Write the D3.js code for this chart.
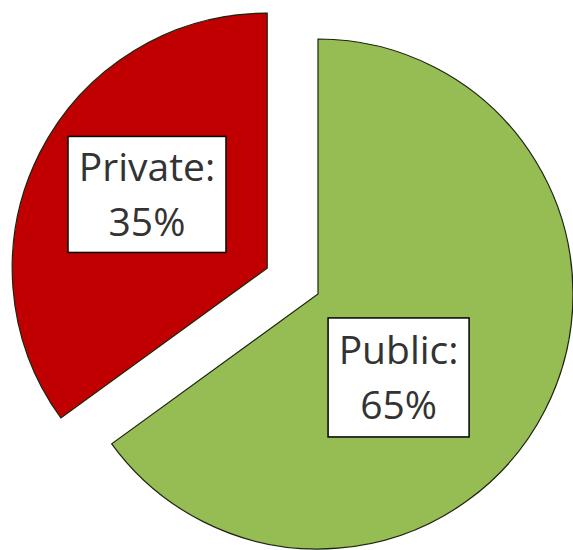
<!DOCTYPE html>
<html>
<head>
<meta charset="utf-8">
<script src="https://cdn.jsdelivr.net/npm/d3@7"></script>
<style>
  html, body { margin: 0; padding: 0; background: #fff; }
  svg { display: block; }
</style>
</head>
<body>
<script>
// data
var categories = ["Public", "Private"];
var shares = [65, 35];
var colors = ["#95bd53", "#c00000"];
var explode = [0, 57];           // pull-out distance per slice
var labelRadius = [116, 141];    // where the label box sits
var labelNudge = [19, 4.5];      // degrees added to slice mid angle

var width = 573, height = 550;
var cx = 318, cy = 294, radius = 255;

var svg = d3.select("body").append("svg")
  .attr("width", width)
  .attr("height", height);

var g = svg.append("g")
  .attr("transform", "translate(" + cx + "," + cy + ")");

var pie = d3.pie().sort(null).value(function (d) { return d.value; });
var arc = d3.arc().innerRadius(0).outerRadius(radius);

var data = categories.map(function (c, i) {
  return { name: c, value: shares[i], i: i };
});
var arcs = pie(data);

function mid(d) { return (d.startAngle + d.endAngle) / 2; }

var slices = g.selectAll("g.slice")
  .data(arcs)
  .enter().append("g")
  .attr("class", "slice")
  .attr("transform", function (d) {
    var a = mid(d), r = explode[d.data.i];
    return "translate(" + (Math.sin(a) * r) + "," + (-Math.cos(a) * r) + ")";
  });

slices.append("path")
  .attr("d", arc)
  .attr("fill", function (d) { return colors[d.data.i]; })
  .attr("stroke", "#1c2410")
  .attr("stroke-width", 1.2)
  .attr("stroke-linejoin", "miter");

// label boxes
var labels = slices.append("g")
  .attr("transform", function (d) {
    var a = mid(d) + labelNudge[d.data.i] * Math.PI / 180;
    var r = labelRadius[d.data.i];
    return "translate(" + (Math.sin(a) * r) + "," + (-Math.cos(a) * r) + ")";
  });

labels.each(function (d) {
  var lg = d3.select(this);
  var w = d.data.i === 0 ? 141 : 158;
  var h = d.data.i === 0 ? 119 : 116;
  lg.append("rect")
    .attr("x", -w / 2).attr("y", -h / 2)
    .attr("width", w).attr("height", h)
    .attr("fill", "#fff")
    .attr("stroke", "#000")
    .attr("stroke-width", 1.5);
  var t = lg.append("text")
    .attr("text-anchor", "middle")
    .attr("font-family", "'Open Sans', sans-serif")
    .attr("font-size", 39)
    .attr("fill", "#333");
  t.append("tspan").attr("x", 0).attr("y", -13).text(d.data.name + ":");
  t.append("tspan").attr("x", 0).attr("y", 42).text(d.data.value + "%");
});
</script>
</body>
</html>
